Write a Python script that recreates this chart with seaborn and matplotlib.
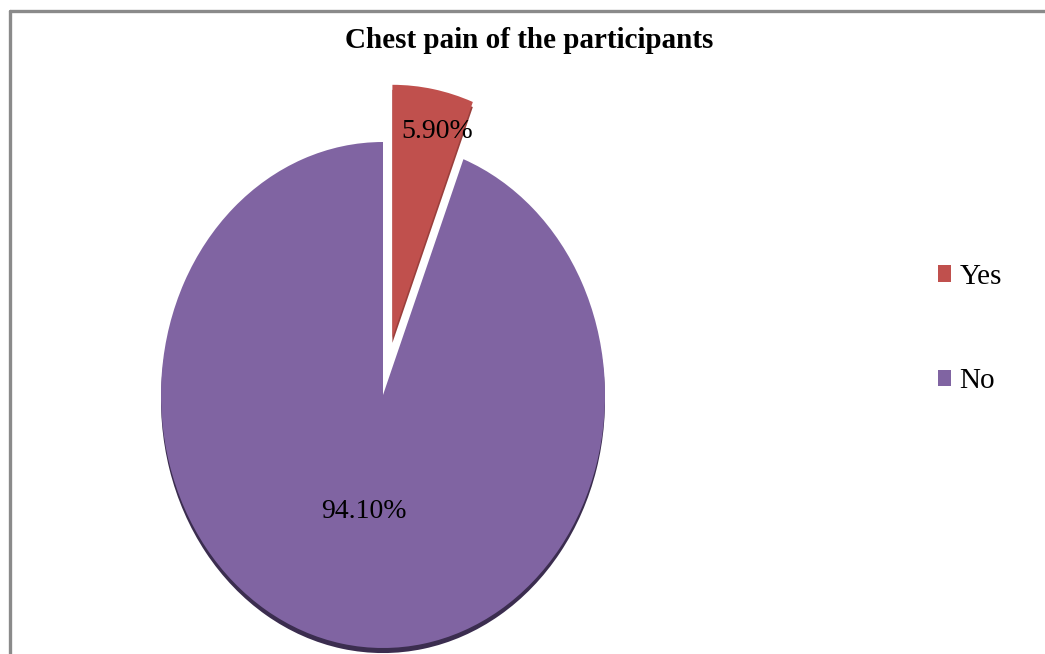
import numpy as np
import matplotlib
matplotlib.use("Agg")
import matplotlib.pyplot as plt
from matplotlib.patches import Wedge, Patch
from matplotlib.lines import Line2D
import seaborn as sns

# Survey answers: share of participants reporting chest pain
categories = ["Yes", "No"]
percentages = [5.90, 94.10]
slice_colors = ["#C0504D", "#8064A2"]
rim_colors = ["#9A3F3C", "#3B2D4F"]
title_text = "Chest pain of the participants"

sns.set_theme(style="white")
plt.rcParams["font.family"] = ["Liberation Serif", "DejaVu Serif"]
plt.rcParams["text.color"] = "black"

W, H = 1045, 654
fig = plt.figure(figsize=(W / 100, H / 100), dpi=100)
fig.patch.set_facecolor("white")

# Elliptical pie: x spans +/-1 over 444 px, y spans +/-1 over 506 px
ax = fig.add_axes([161 / W, 6 / H, 444 / W, 506 / H])

wedges, _ = ax.pie(
    percentages,
    colors=slice_colors,
    startangle=90,
    counterclock=False,
    explode=[0.23, 0.0],
    wedgeprops=dict(edgecolor="none", linewidth=0),
)

# Dark rim under each slice for a slight 3D look
for w, rc in zip(wedges, rim_colors):
    cx, cy = w.center
    rim = Wedge((cx, cy - 0.02), w.r, w.theta1, w.theta2,
                facecolor=rc, edgecolor="none", zorder=1)
    rim.set_clip_on(False)
    ax.add_patch(rim)
for w in wedges:
    w.set_clip_on(False)
    w.set_zorder(2)

ax.set_aspect("auto")
ax.set_xlim(-1, 1)
ax.set_ylim(-1, 1)
ax.axis("off")

# Percentage labels placed along each wedge's mid-angle
label_dist = [0.83, 0.47]
for w, pct, d in zip(wedges, percentages, label_dist):
    mid = np.deg2rad((w.theta1 + w.theta2) / 2)
    cx, cy = w.center
    ax.text(cx + d * np.cos(mid) + (0.05 if pct < 50 else 0), cy + d * np.sin(mid),
            f"{pct:.2f}%", ha="center", va="center", fontsize=20,
            color="black", clip_on=False, zorder=3)

fig.text(529 / W, 1 - 40 / H, title_text, ha="center", va="center",
         fontsize=21, fontweight="bold", color="black")

handles = [Patch(facecolor=c, edgecolor="none") for c in slice_colors]
fig.legend(handles, categories, loc="center left",
           bbox_to_anchor=(912 / W, 1 - 329 / H), frameon=False,
           fontsize=21, handlelength=0.42, handleheight=0.5,
           handletextpad=0.3, labelspacing=2.7, labelcolor="black")

# Frame lines along the top and left edges
fig.add_artist(Line2D([9.5 / W, 1.0], [1 - 10.5 / H, 1 - 10.5 / H],
                      color="#8A8A8A", linewidth=2.4, transform=fig.transFigure))
fig.add_artist(Line2D([9.5 / W, 9.5 / W], [0.0, 1 - 10.5 / H],
                      color="#8A8A8A", linewidth=2.4, transform=fig.transFigure))

fig.savefig("out.png", dpi=100, facecolor="white")
